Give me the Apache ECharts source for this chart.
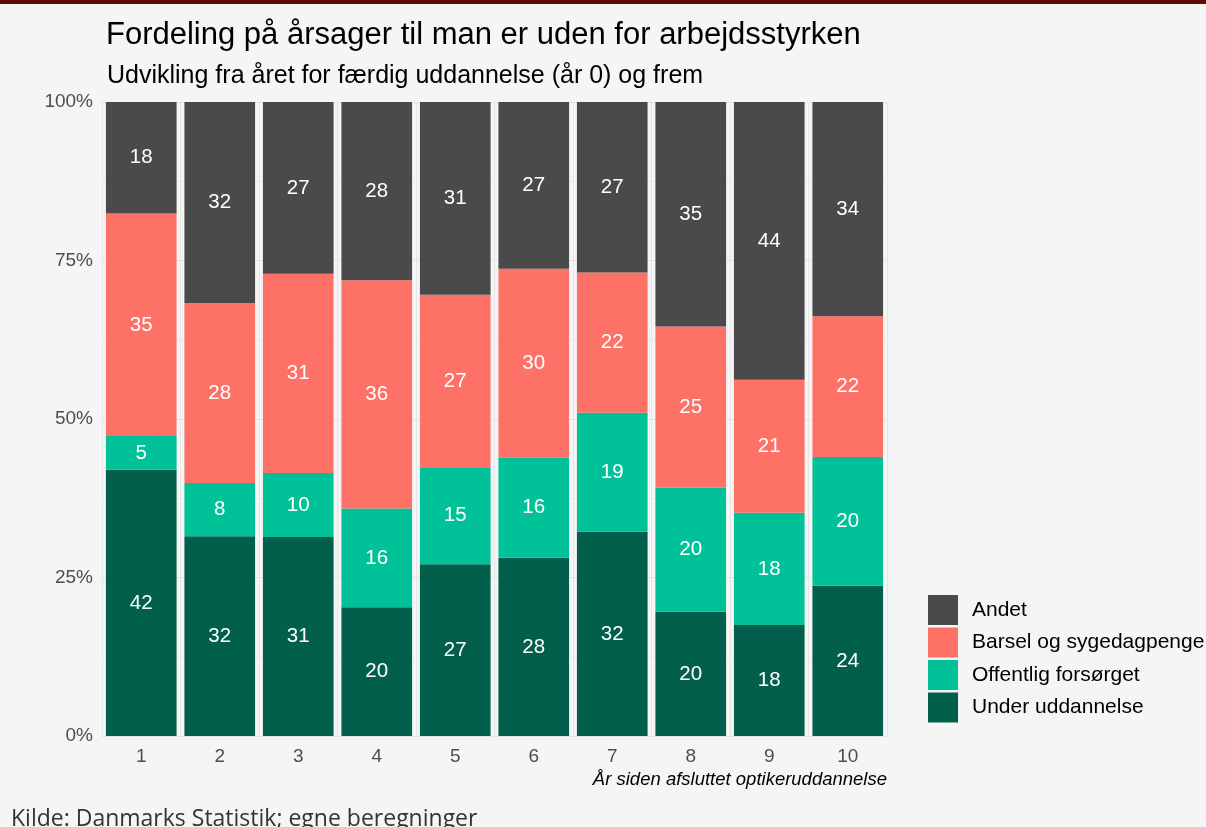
<!DOCTYPE html>
<html><head><meta charset="utf-8">
<script src="https://cdn.jsdelivr.net/npm/echarts@6/dist/echarts.min.js"></script>
<style>
html,body{margin:0;padding:0;background:#f5f5f5;}
#topbar{position:absolute;left:0;top:0;width:1206px;height:4px;background:#5e0c0a;z-index:2;}
#c{width:1206px;height:827px;}
</style></head>
<body><div id="topbar"></div><div id="c"></div>
<script>
const categories = ['1','2','3','4','5','6','7','8','9','10'];
const underUddannelse = [42.0, 31.5, 31.4, 20.3, 27.1, 28.1, 32.2, 19.6, 17.5, 23.7];
const offentligForsorget = [5.3, 8.4, 10.1, 15.6, 15.3, 15.8, 18.8, 19.6, 17.7, 20.3];
const barselSygedagpenge = [35.1, 28.4, 31.4, 36.0, 27.2, 29.8, 22.1, 25.4, 21.0, 22.2];
const andet = [17.6, 31.7, 27.1, 28.1, 30.6, 26.5, 27.0, 35.4, 43.8, 33.8];
const yTicks = [0, 25, 50, 75, 100];
const colors = {andet:'#4a4a4a', barsel:'#fe7167', off:'#00c197', under:'#025f4b'};
const FONT = 'Liberation Sans, Arial, sans-serif';

const chart = echarts.init(document.getElementById('c'), null, {renderer:'canvas'});
function mk(name, data, color){
  return {name, type:'bar', stack:'s', data, barWidth:'90%',
    itemStyle:{color},
    label:{show:true, position:'inside', color:'#ffffff', fontSize:20.5,
      fontFamily:FONT,
      formatter:p=>Math.round(p.value)}};
}
chart.setOption({
  backgroundColor:'#f5f5f5',
  animation:false,
  title:[
    {text:'Fordeling på årsager til man er uden for arbejdsstyrken', left:101, top:15,
     textStyle:{fontFamily:FONT, fontSize:31, fontWeight:'normal', color:'#000'}},
    {text:'Udvikling fra året for færdig uddannelse (år 0) og frem', left:102, top:59,
     textStyle:{fontFamily:FONT, fontSize:25, fontWeight:'normal', color:'#000'}},
    {text:'Kilde: Danmarks Statistik; egne beregninger', left:6, top:803,
     textStyle:{fontFamily:'Open Sans, sans-serif', fontSize:23, fontWeight:'normal', color:'#333'}}
  ],
  grid:{left:102, right:319, top:102, bottom:91, containLabel:false},
  legend:{orient:'vertical', left:923, top:590, itemWidth:30, itemHeight:30, itemGap:2.5,
    icon:'rect',
    data:['Andet','Barsel og sygedagpenge','Offentlig forsørget','Under uddannelse'],
    textStyle:{fontFamily:FONT, fontSize:21, color:'#000', padding:[0,0,0,9]}},
  xAxis:{type:'category', data:categories,
    name:'År siden afsluttet optikeruddannelse', nameLocation:'end',
    nameGap:0,
    nameTextStyle:{fontFamily:FONT, fontSize:18.5, fontStyle:'italic', color:'#000',
      align:'right', verticalAlign:'top', padding:[34,0,0,0]},
    axisLine:{show:false},
    axisTick:{show:false},
    axisLabel:{fontFamily:FONT, fontSize:19, color:'#4d4d4d', margin:11},
    splitLine:{show:true, lineStyle:{color:'#e6e6e6', width:1}}},
  yAxis:{type:'value', min:0, max:100, interval:25,
    axisLine:{show:false}, axisTick:{show:false},
    axisLabel:{fontFamily:FONT, fontSize:19, color:'#4d4d4d', margin:9,
      formatter:v=>yTicks.includes(v)? v+'%' : ''},
    splitLine:{show:true, lineStyle:{color:'#e3e3e3', width:1}},
    minorTick:{show:false, splitNumber:2},
    minorSplitLine:{show:true, lineStyle:{color:'#ececec', width:1}}},
  series:[
    mk('Under uddannelse', underUddannelse, colors.under),
    mk('Offentlig forsørget', offentligForsorget, colors.off),
    mk('Barsel og sygedagpenge', barselSygedagpenge, colors.barsel),
    mk('Andet', andet, colors.andet)
  ]
});
</script></body></html>
